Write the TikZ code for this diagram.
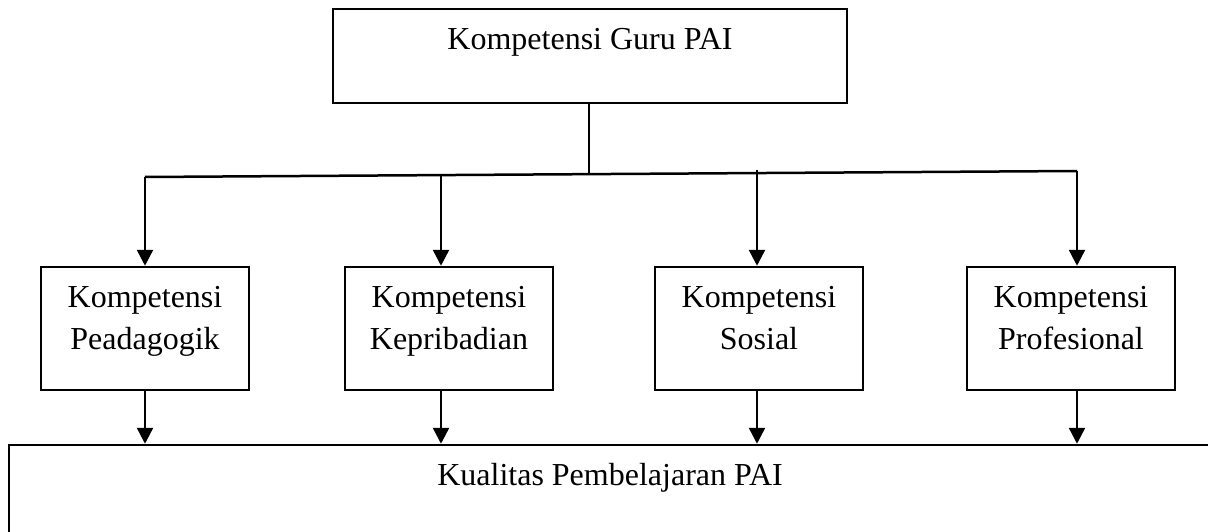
\documentclass[tikz,border=0pt]{standalone}
\usepackage{fontspec}
\setmainfont{Liberation Serif}
\usetikzlibrary{arrows.meta}
\begin{document}
\begin{tikzpicture}[x=1pt,y=-1pt,
  line width=2.5pt,
  box/.style={draw, rectangle, line width=2.5pt, inner sep=0pt, minimum width=208pt, minimum height=123pt},
  txt/.style={font=\fontsize{32}{42}\selectfont, align=center, inner sep=0pt, anchor=base},
  arr/.style={-{Triangle[width=16pt,length=16pt]}}]
\useasboundingbox (0,0) rectangle (1208,532);
\clip (0,0) rectangle (1208,532);
\fill[white] (0,0) rectangle (1208,532);

% top box
\node[draw, rectangle, line width=2.5pt, inner sep=0pt, minimum width=514pt, minimum height=94pt] (top) at (590,56) {};
\node[txt] (toptxt) at (590,50) {Kompetensi Guru PAI};

% middle boxes
\node[box] (b1) at (145,328.5) {};
\node[box] (b2) at (449,328.5) {};
\node[box] (b3) at (759,328.5) {};
\node[box] (b4) at (1071,328.5) {};
\node[txt] (t1) at (145,349) {Kompetensi\\Peadagogik};
\node[txt] (t2) at (449,349) {Kompetensi\\Kepribadian};
\node[txt] (t3) at (759,349) {Kompetensi\\Sosial};
\node[txt] (t4) at (1071,349) {Kompetensi\\Profesional};

% bottom box (extends beyond the picture)
\node[draw, rectangle, line width=2.5pt, inner sep=0pt, minimum width=1221pt, minimum height=115pt] (bot) at (619.5,502.5) {};
\node[txt] (bottxt) at (610,485) {Kualitas Pembelajaran PAI};

% bus
\coordinate (cA) at (145,177);
\coordinate (cB) at (441,176);
\coordinate (cC) at (757,170);
\coordinate (cD) at (1077,171);
\coordinate (c0) at (589,173.5);
\draw (top.south -| c0) -- (c0);
\draw (cA) -- (cD);

% arrows down to the four boxes
\draw[arr] (cA) -- (cA |- b1.north);
\draw[arr] (cB) -- (cB |- b2.north);
\draw[arr] (cC) -- (cC |- b3.north);
\draw[arr] (cD) -- (cD |- b4.north);

% arrows to the bottom box
\draw[arr] (cA |- b1.south) -- (cA |- bot.north);
\draw[arr] (cB |- b2.south) -- (cB |- bot.north);
\draw[arr] (cC |- b3.south) -- (cC |- bot.north);
\draw[arr] (cD |- b4.south) -- (cD |- bot.north);
\end{tikzpicture}
\end{document}
